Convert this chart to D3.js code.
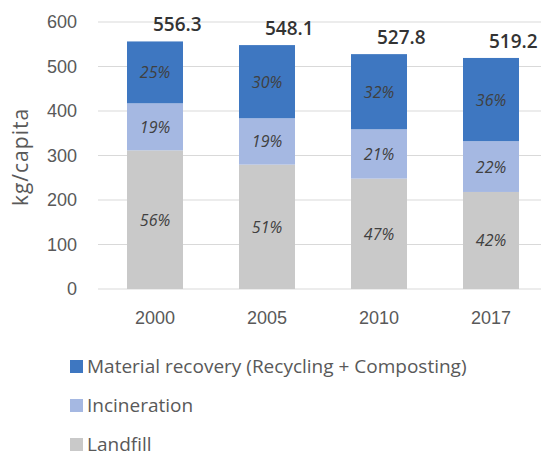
<!DOCTYPE html>
<html>
<head>
<meta charset="utf-8">
<script src="https://cdn.jsdelivr.net/npm/d3@7"></script>
<style>
  body { margin: 0; background: #fff; }
  svg { font-family: "Open Sans", "Noto Sans", sans-serif; }
</style>
</head>
<body>
<div id="chart"></div>
<script>
// data
const years = ["2000", "2005", "2010", "2017"];
const totals = [556.3, 548.1, 527.8, 519.2];
const landfillPct = [56, 51, 47, 42];
const incinerationPct = [19, 19, 21, 22];
const recoveryPct = [25, 30, 32, 36];
const yTicks = [0, 100, 200, 300, 400, 500, 600];

const seriesNames = ["Landfill", "Incineration", "Material recovery (Recycling + Composting)"];
const seriesKeys = ["landfill", "incineration", "recovery"];
const colors = { landfill: "#c9c9c9", incineration: "#a5b8e2", recovery: "#3e77c1" };

const width = 541;
const height = 459;

const svg = d3.select("#chart")
    .append("svg")
    .attr("width", width)
    .attr("height", height);

// build table: kg per segment from total and share
const rows = years.map((y, i) => ({
    year: y,
    total: totals[i],
    landfill: totals[i] * landfillPct[i] / 100,
    incineration: totals[i] * incinerationPct[i] / 100,
    recovery: totals[i] * recoveryPct[i] / 100,
    pct: { landfill: landfillPct[i], incineration: incinerationPct[i], recovery: recoveryPct[i] }
}));

const x = d3.scaleBand()
    .domain(years)
    .range([99, 547])
    .paddingInner(0.5)
    .paddingOuter(0.25);

const y = d3.scaleLinear()
    .domain([0, 600])
    .range([289, 22]);

// gridlines
svg.append("g")
    .selectAll("line")
    .data(yTicks)
    .join("line")
    .attr("x1", 98)
    .attr("x2", width)
    .attr("y1", d => y(d))
    .attr("y2", d => y(d))
    .attr("stroke", "#d9d9d9")
    .attr("stroke-width", 1);

// y axis labels
const yAxis = svg.append("g")
    .attr("transform", "translate(77,0)")
    .call(d3.axisLeft(y).tickValues(yTicks).tickSize(0).tickPadding(0));
yAxis.select(".domain").remove();
yAxis.selectAll("text")
    .attr("fill", "#595959")
    .style("font-size", "18px");

// y title
svg.append("text")
    .attr("transform", "translate(28,157) rotate(-90)")
    .attr("text-anchor", "middle")
    .attr("fill", "#595959")
    .style("font-size", "21px")
    .style("letter-spacing", "1px")
    .text("kg/capita");

// x axis labels
const xAxis = svg.append("g")
    .attr("transform", "translate(0,289)")
    .call(d3.axisBottom(x).tickSize(0).tickPadding(22));
xAxis.select(".domain").remove();
xAxis.selectAll("text")
    .attr("fill", "#595959")
    .style("font-size", "18px");

// stacked bars
const stack = d3.stack().keys(seriesKeys);
const layers = stack(rows);

const layerG = svg.append("g")
    .selectAll("g")
    .data(layers)
    .join("g")
    .attr("fill", d => colors[d.key]);

layerG.selectAll("rect")
    .data(d => d.map(p => ({ key: d.key, p: p })))
    .join("rect")
    .attr("x", d => x(d.p.data.year))
    .attr("width", x.bandwidth())
    .attr("y", d => y(d.p[1]))
    .attr("height", d => y(d.p[0]) - y(d.p[1]));

// percent labels
layerG.selectAll("text")
    .data(d => d.map(p => ({ key: d.key, p: p })))
    .join("text")
    .attr("x", d => x(d.p.data.year) + x.bandwidth() / 2)
    .attr("y", d => (y(d.p[0]) + y(d.p[1])) / 2 + 6)
    .attr("text-anchor", "middle")
    .attr("fill", "#404040")
    .style("font-size", "16px")
    .style("font-style", "italic")
    .text(d => d.p.data.pct[d.key] + "%");

// totals
svg.append("g")
    .selectAll("text")
    .data(rows)
    .join("text")
    .attr("x", d => x(d.year) + x.bandwidth() / 2 - 2)
    .attr("y", d => y(d.total) - 10)
    .attr("text-anchor", "start")
    .attr("fill", "#333333")
    .style("font-size", "19px")
    .style("font-weight", "600")
    .text(d => d.total.toFixed(1));

// legend
const legendOrder = [2, 1, 0];
const legend = svg.append("g")
    .selectAll("g")
    .data(legendOrder)
    .join("g")
    .attr("transform", (d, i) => `translate(70,${373 + i * 39})`);

legend.append("rect")
    .attr("x", 0)
    .attr("y", -13)
    .attr("width", 13)
    .attr("height", 13)
    .attr("fill", d => colors[seriesKeys[d]]);

legend.append("text")
    .attr("x", 17)
    .attr("y", 0)
    .attr("fill", "#595959")
    .style("font-size", "19px")
    .text(d => seriesNames[d]);
</script>
</body>
</html>
